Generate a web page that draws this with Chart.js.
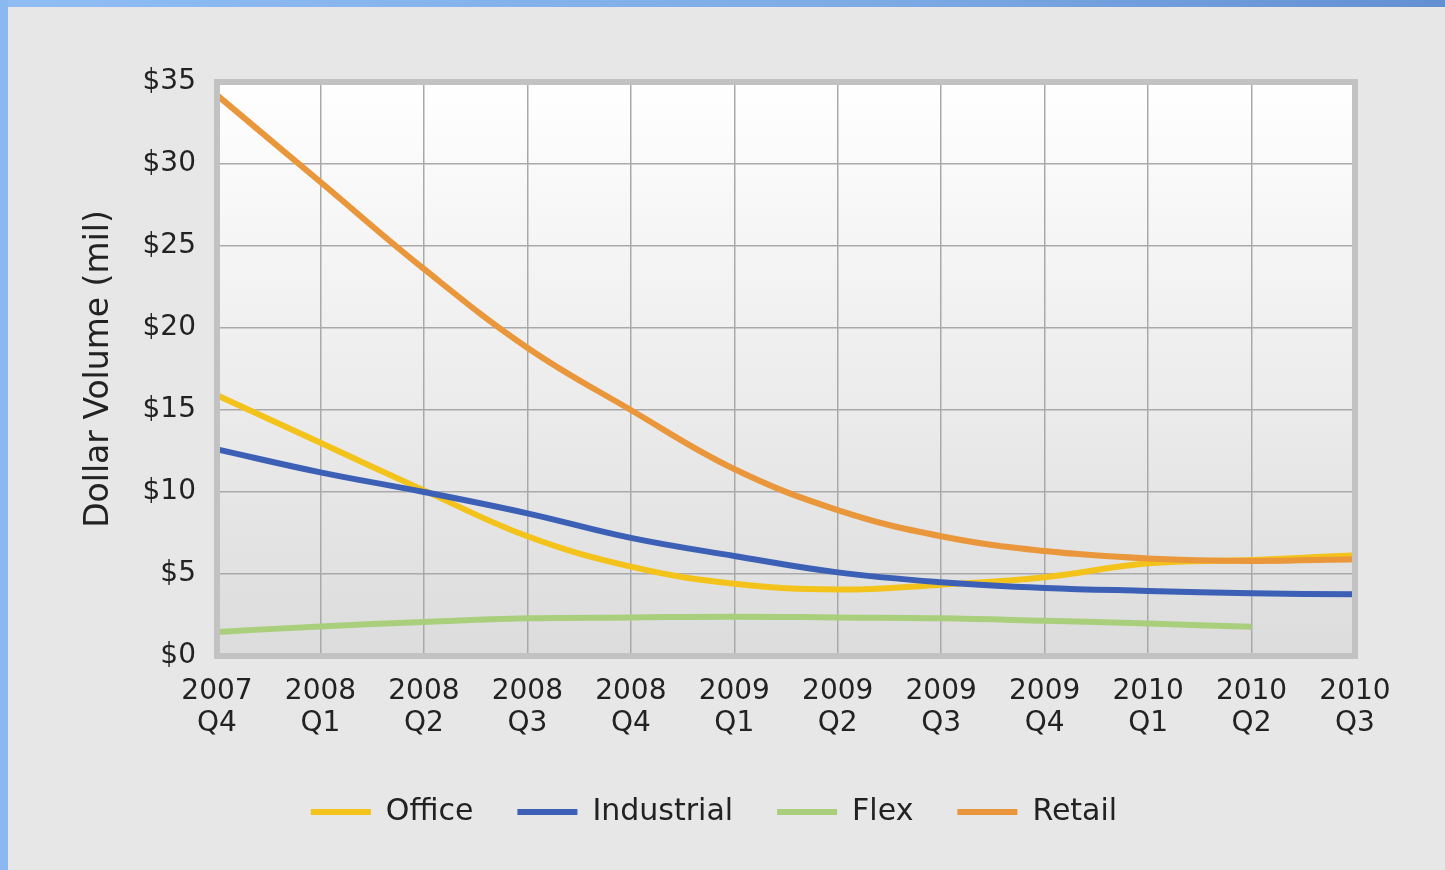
<!DOCTYPE html>
<html>
<head>
<meta charset="utf-8">
<title>Dollar Volume by Property Type</title>
<script src="https://cdn.jsdelivr.net/npm/chart.js@4.4.1/dist/chart.umd.min.js"></script>
<style>
  html, body { margin: 0; padding: 0; background: #e7e7e7; }
  #wrap { position: relative; width: 1445px; height: 870px; background: #e7e7e7; overflow: hidden; }
  #volumeChart { position: absolute; left: 0; top: 0; }
  .edge-top { position: absolute; left: 0; top: 0; width: 1445px; height: 7px;
    background: linear-gradient(to right, #8fbdf4, #7eaae6 60%, #6490d2); }
  .edge-left { position: absolute; left: 0; top: 0; width: 8px; height: 870px; background: #8bb8f0; }
</style>
</head>
<body>
<div id="wrap">
  <canvas id="volumeChart" width="1445" height="870"></canvas>
  <div class="edge-top"></div>
  <div class="edge-left"></div>
</div>
<script>
// quarters on the x axis, two lines each
const quarters = [
  ["2007", "Q4"], ["2008", "Q1"], ["2008", "Q2"], ["2008", "Q3"],
  ["2008", "Q4"], ["2009", "Q1"], ["2009", "Q2"], ["2009", "Q3"],
  ["2009", "Q4"], ["2010", "Q1"], ["2010", "Q2"], ["2010", "Q3"]
];

// dollar volume, millions
const office     = [15.9, 13.0, 10.1, 7.3, 5.45, 4.4, 4.05, 4.35, 4.8, 5.65, 5.85, 6.15];
const industrial = [12.6, 11.2, 10.0, 8.7, 7.2, 6.1, 5.1, 4.5, 4.15, 3.97, 3.82, 3.76];
const flex       = [1.47, 1.8, 2.08, 2.3, 2.35, 2.4, 2.35, 2.3, 2.15, 1.98, 1.78, null];
const retail     = [34.2, 28.9, 23.6, 18.8, 15.0, 11.4, 8.9, 7.3, 6.4, 5.95, 5.8, 5.9];

const yMin = 0;
const yMax = 35;
const yStep = 5;

const FONT = "'DejaVu Sans', Verdana, sans-serif";

// gradient plot background + thick grey frame
const plotFrame = {
  id: "plotFrame",
  beforeDraw(chart) {
    const { ctx, chartArea: a } = chart;
    const g = ctx.createLinearGradient(0, a.top, 0, a.bottom);
    g.addColorStop(0, "#ffffff");
    g.addColorStop(1, "#dcdcdc");
    ctx.save();
    ctx.fillStyle = g;
    ctx.fillRect(a.left, a.top, a.right - a.left, a.bottom - a.top);
    ctx.restore();
  },
  afterDatasetsDraw(chart) {
    const { ctx, chartArea: a } = chart;
    ctx.save();
    ctx.strokeStyle = "#c2c2c2";
    ctx.lineWidth = 6;
    ctx.strokeRect(a.left, a.top, a.right - a.left, a.bottom - a.top);
    ctx.restore();
  }
};

function series(label, data, color, order) {
  return {
    label: label,
    data: data,
    borderColor: color,
    backgroundColor: color,
    borderWidth: 6,
    pointRadius: 0,
    tension: 0.4,
    fill: false,
    order: order
  };
}

const ctx = document.getElementById("volumeChart").getContext("2d");

new Chart(ctx, {
  type: "line",
  data: {
    labels: quarters,
    datasets: [
      series("Office", office, "#f3c31c", 2),
      series("Industrial", industrial, "#3c60b6", 1),
      series("Flex", flex, "#a9cf7c", 3),
      series("Retail", retail, "#e9973a", 0)
    ]
  },
  options: {
    responsive: false,
    animation: false,
    layout: { padding: { left: 73, right: 90, top: 82, bottom: 33 } },
    plugins: {
      tooltip: { enabled: false },
      legend: {
        position: "bottom",
        labels: {
          usePointStyle: true,
          pointStyle: "line",
          pointStyleWidth: 60,
          padding: 44,
          color: "#222",
          font: { family: FONT, size: 30 },
          sort: (a, b) => a.datasetIndex - b.datasetIndex
        }
      }
    },
    scales: {
      x: {
        grid: { color: "#a9a9a9", lineWidth: 1.5, drawTicks: false },
        border: { display: false },
        ticks: {
          color: "#222",
          font: { family: FONT, size: 28, lineHeight: 1.17 },
          padding: 19,
          autoSkip: false,
          maxRotation: 0
        },
        afterFit(scale) {
          scale.height = 97;
          scale.paddingLeft = 0;
          scale.paddingRight = 0;
        }
      },
      y: {
        min: yMin,
        max: yMax,
        grid: { color: "#a9a9a9", lineWidth: 1.5, drawTicks: false },
        border: { display: false },
        ticks: {
          stepSize: yStep,
          color: "#222",
          font: { family: FONT, size: 28 },
          padding: 21,
          callback: v => "$" + v
        },
        title: {
          display: true,
          text: "Dollar Volume (mil)",
          color: "#222",
          font: { family: FONT, size: 33 },
          padding: { top: 7, bottom: 0 }
        },
        afterFit(scale) {
          scale.width = 144;
          scale.paddingTop = 0;
          scale.paddingBottom = 0;
        }
      }
    }
  },
  plugins: [plotFrame]
});
</script>
</body>
</html>
